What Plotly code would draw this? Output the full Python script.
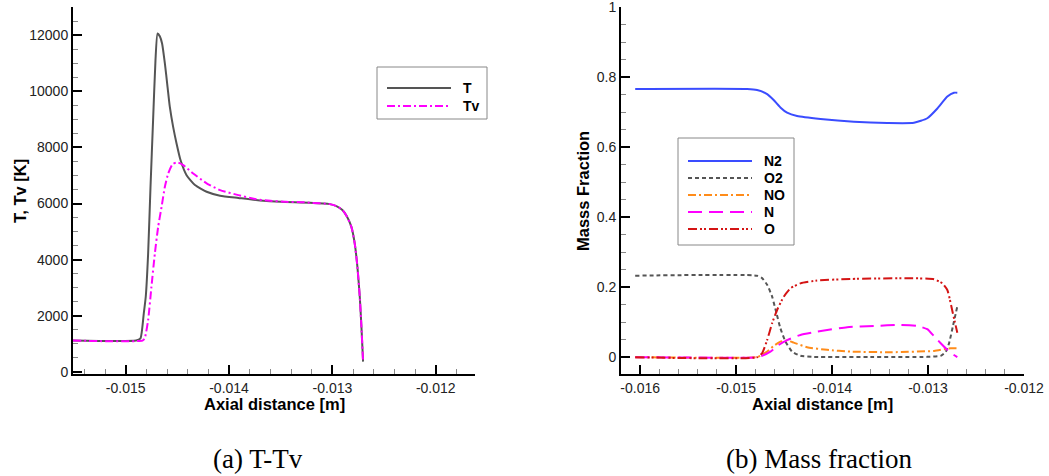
import plotly.graph_objects as go

# ---- panel (a): translational and vibrational temperature ----
t_x = [-0.01551, -0.01490, -0.014857, -0.014825, -0.014806, -0.014783, -0.014760,
       -0.014735, -0.014712, -0.014692, -0.014670, -0.014648, -0.014621, -0.014595,
       -0.014573, -0.014541, -0.014508, -0.014469, -0.014411, -0.014330, -0.014217,
       -0.014087, -0.013910, -0.013700, -0.013500, -0.013219, -0.013025, -0.012961,
       -0.012903, -0.012858, -0.012816, -0.012784, -0.012758, -0.012735, -0.012719,
       -0.012703]
t_y = [1120, 1120, 1200, 2090, 2680, 4220, 6600, 8970, 11100, 12060, 11960, 11700,
       10990, 10150, 9440, 8730, 8140, 7540, 7010, 6660, 6420, 6280, 6200, 6110, 6060,
       6030, 5980, 5910, 5770, 5530, 5170, 4580, 3750, 2680, 1610, 370]

tv_x = [-0.01551, -0.014838, -0.014816, -0.014783, -0.014751, -0.014718, -0.014686,
        -0.014653, -0.014621, -0.014589, -0.014547, -0.014502, -0.014444, -0.014347,
        -0.014217, -0.014087, -0.013910, -0.013750, -0.013600, -0.013450, -0.013300,
        -0.013219, -0.013025, -0.012961, -0.012903, -0.012858, -0.012816, -0.012784,
        -0.012758, -0.012735, -0.012719, -0.012703]
tv_y = [1120, 1120, 1200, 1850, 3040, 4220, 5170, 5880, 6600, 7070, 7400, 7470, 7370,
        7070, 6720, 6480, 6300, 6160, 6100, 6060, 6050, 6030, 5980, 5910, 5770, 5530,
        5170, 4580, 3750, 2680, 1610, 370]

# ---- panel (b): species mass fractions ----
n2_x = [-0.016052, -0.014886, -0.014782, -0.014677, -0.014609, -0.014539, -0.014469,
        -0.014365, -0.014121, -0.013773, -0.013425, -0.013147, -0.013008, -0.012903,
        -0.012799, -0.012730, -0.012695]
n2_y = [0.7666, 0.7666, 0.7637, 0.752, 0.735, 0.714, 0.699, 0.6894, 0.681, 0.673,
        0.6694, 0.670, 0.683, 0.711, 0.745, 0.756, 0.756]

o2_x = [-0.016052, -0.014782, -0.014730, -0.014677, -0.014625, -0.014580, -0.014539,
        -0.014487, -0.014417, -0.014330, -0.014191, -0.013600, -0.013008, -0.012868,
        -0.012816, -0.012781, -0.012740, -0.012695]
o2_y = [0.233, 0.233, 0.226, 0.207, 0.173, 0.126, 0.083, 0.045, 0.016, 0.004, 0.001,
        0.0005, 0.001, 0.004, 0.015, 0.040, 0.090, 0.145]

no_x = [-0.016052, -0.014782, -0.014747, -0.014677, -0.014609, -0.014539, -0.014469,
        -0.014400, -0.014261, -0.014052, -0.013808, -0.013382, -0.012938, -0.012833,
        -0.012764, -0.012695]
no_y = [0.0, 0.0, 0.004, 0.016, 0.032, 0.0446, 0.0474, 0.0417, 0.0286, 0.021, 0.016,
        0.0143, 0.018, 0.0229, 0.0257, 0.0257]

n_x = [-0.016052, -0.014782, -0.014730, -0.014643, -0.014557, -0.014469, -0.014330,
       -0.014156, -0.013843, -0.013565, -0.013286, -0.013112, -0.013008, -0.012938,
       -0.012868, -0.012799, -0.012750, -0.012695]
n_y = [0.0, 0.0, 0.004, 0.016, 0.035, 0.049, 0.0637, 0.073, 0.0857, 0.0894, 0.0923,
       0.0894, 0.080, 0.060, 0.040, 0.021, 0.010, 0.0]

o_x = [-0.016052, -0.014782, -0.014730, -0.014677, -0.014625, -0.014573, -0.014504,
       -0.014434, -0.014330, -0.014156, -0.013808, -0.013216, -0.012938, -0.012851,
       -0.012799, -0.012772, -0.012745, -0.012720, -0.012695]
o_y = [0.0, 0.0, 0.011, 0.049, 0.097, 0.135, 0.173, 0.197, 0.211, 0.219, 0.2237,
       0.2257, 0.223, 0.211, 0.192, 0.164, 0.130, 0.100, 0.070]

# ---- tick labels ----
a_xticks = [-0.015, -0.014, -0.013, -0.012]
a_xlabels = ["-0.015", "-0.014", "-0.013", "-0.012"]
a_yticks = [0, 2000, 4000, 6000, 8000, 10000, 12000]
a_ylabels = ["0", "2000", "4000", "6000", "8000", "10000", "12000"]
b_xticks = [-0.016, -0.015, -0.014, -0.013, -0.012]
b_xlabels = ["-0.016", "-0.015", "-0.014", "-0.013", "-0.012"]
b_yticks = [0, 0.2, 0.4, 0.6, 0.8, 1.0]
b_ylabels = ["0", "0.2", "0.4", "0.6", "0.8", "1"]

W, H = 1049, 476
SANS = "Liberation Sans, Arial, sans-serif"


def px(x):
    return x / W


def py(y):
    return 1 - y / H


fig = go.Figure()

DASHDOT = "8px,3px,2px,3px"
series_a = [
    ("T", t_x, t_y, "#555555", "solid"),
    ("Tv", tv_x, tv_y, "#ff00ff", DASHDOT),
]
series_b = [
    ("N2", n2_x, n2_y, "#3a4cff", "solid"),
    ("O2", o2_x, o2_y, "#555555", "4px,3px"),
    ("NO", no_x, no_y, "#ff8c1a", DASHDOT),
    ("N", n_x, n_y, "#ff00ff", "14px,7px"),
    ("O", o_x, o_y, "#d41414", "9px,3px,2px,2px,2px,3px"),
]

for name, xs, ys, col, dash in series_a:
    fig.add_trace(go.Scatter(x=xs, y=ys, mode="lines", name=name, showlegend=False,
                             line=dict(color=col, width=2, dash=dash, shape="spline",
                                       smoothing=0.5),
                             xaxis="x", yaxis="y"))
for name, xs, ys, col, dash in series_b:
    fig.add_trace(go.Scatter(x=xs, y=ys, mode="lines", name=name, showlegend=False,
                             line=dict(color=col, width=2, dash=dash, shape="spline",
                                       smoothing=0.5),
                             xaxis="x2", yaxis="y2"))

axis_common = dict(
    automargin=False,
    showline=True, linecolor="black", linewidth=2, mirror=False,
    showgrid=False, zeroline=False,
    ticks="inside", ticklen=9, tickwidth=2, tickcolor="black",
    tickfont=dict(family=SANS, size=14, color="#222222"),
    ticklabeloverflow="allow",
    tickmode="array",
)
minor_common = dict(ticks="inside", ticklen=5, tickwidth=1, tickcolor="#888888")

title_font = dict(family=SANS, size=16.5, color="black", weight="bold")

fig.update_layout(
    template="none",
    width=W, height=H,
    margin=dict(l=0, r=0, t=0, b=0, pad=0, autoexpand=False),
    paper_bgcolor="white", plot_bgcolor="white",
    showlegend=False,
    xaxis=dict(axis_common, domain=[px(73), px(475)], range=[-0.01551, -0.01162],
               tickvals=a_xticks, ticktext=a_xlabels, anchor="y",
               minor=dict(minor_common, tickmode="linear", tick0=-0.016, dtick=0.0002)),
    yaxis=dict(axis_common, domain=[py(374), py(7)], range=[-70, 13000],
               tickvals=a_yticks, ticktext=a_ylabels, anchor="x",
               minor=dict(minor_common, tickmode="linear", tick0=0, dtick=500)),
    xaxis2=dict(axis_common, domain=[px(621), px(1024)], range=[-0.0162, -0.012],
                tickvals=b_xticks, ticktext=b_xlabels, anchor="y2",
                minor=dict(minor_common, tickmode="linear", tick0=-0.016, dtick=0.0002)),
    yaxis2=dict(axis_common, domain=[py(374), py(7)], range=[-0.048, 1.001],
                tickvals=b_yticks, ticktext=b_ylabels, anchor="x2",
                minor=dict(minor_common, tickmode="linear", tick0=0, dtick=0.05)),
)

shapes = []
annotations = []

# ---- axis titles ----
for text, cx, cy, angle in [
    ("Axial distance [m]", 274, 404, 0),
    ("Axial distance [m]", 822, 404, 0),
    ("T, Tv [K]", 20, 191, -90),
    ("Masss Fraction", 583, 191, -90),
]:
    annotations.append(dict(xref="paper", yref="paper", x=px(cx), y=py(cy),
                            text=text, showarrow=False, textangle=angle,
                            xanchor="center", yanchor="middle", font=title_font))


# ---- legends drawn as boxes with sample lines ----
def legend_box(x0, y0, x1, y1, rows, line_x0, line_x1, text_x):
    shapes.append(dict(type="rect", xref="paper", yref="paper",
                       x0=px(x0), x1=px(x1), y0=py(y1), y1=py(y0),
                       line=dict(color="#888888", width=1), fillcolor="white",
                       layer="above"))
    for (name, col, dash), yy in rows:
        shapes.append(dict(type="line", xref="paper", yref="paper",
                           x0=px(line_x0), x1=px(line_x1), y0=py(yy), y1=py(yy),
                           line=dict(color=col, width=2, dash=dash), layer="above"))
        annotations.append(dict(xref="paper", yref="paper", x=px(text_x), y=py(yy),
                                text=name, showarrow=False, xanchor="left",
                                yanchor="middle",
                                font=dict(family=SANS, size=14, color="black",
                                          weight="bold")))


legend_box(377, 67, 487, 119,
           [((n, c, d), yy) for (n, _, _, c, d), yy in zip(series_a, [88, 106])],
           387, 451, 461)
legend_box(678, 138, 794, 245,
           [((n, c, d), yy) for (n, _, _, c, d), yy in
            zip(series_b, [161, 178, 195, 212, 229])],
           688, 752, 762)

# ---- sub-figure captions ----
for text, cx in [("(a) T-Tv", 258), ("(b) Mass fraction", 819)]:
    annotations.append(dict(xref="paper", yref="paper", x=px(cx), y=py(459),
                            text=text, showarrow=False, xanchor="center",
                            yanchor="middle",
                            font=dict(family="Liberation Serif, serif", size=27,
                                      color="black")))

fig.update_layout(shapes=shapes, annotations=annotations)

# page body without default margins so the figure fills the window exactly
fig.write_html(
    "out.html",
    post_script="document.body.style.margin='0';"
                "document.body.style.overflow='hidden';",
)
